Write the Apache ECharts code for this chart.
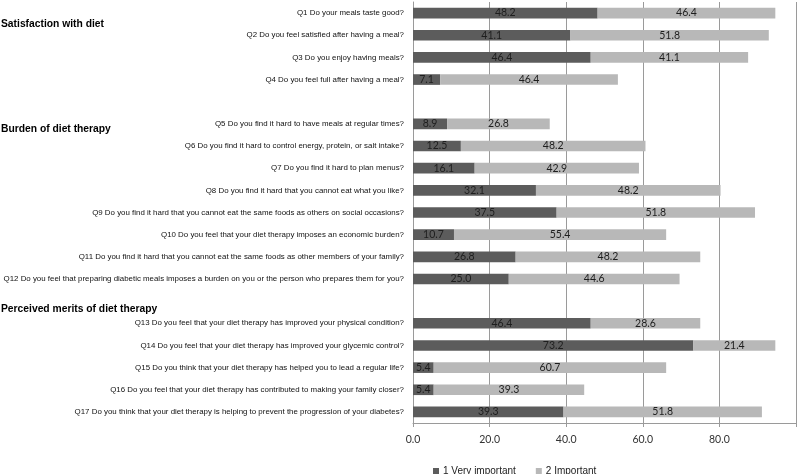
<!DOCTYPE html>
<html><head><meta charset="utf-8">
<script src="https://cdn.jsdelivr.net/npm/echarts@6/dist/echarts.min.js"></script>
<style>html,body{margin:0;padding:0;background:#fff}#c{width:798px;height:474px}</style>
</head><body><div id="c"></div>
<script>
var categories = [
 "Q1 Do your meals taste good?",
 "Q2 Do you feel satisfied after having a meal?",
 "Q3 Do you enjoy having meals?",
 "Q4 Do you feel full after having a meal?",
 " ",
 "Q5 Do you find it hard to have meals at regular times?",
 "Q6 Do you find it hard to control energy, protein, or salt intake?",
 "Q7 Do you find it hard to plan menus?",
 "Q8 Do you find it hard that you cannot eat what you like?",
 "Q9 Do you find it hard that you cannot eat the same foods as others on social occasions?",
 "Q10 Do you feel that your diet therapy imposes an economic burden?",
 "Q11 Do you find it hard that you cannot eat the same foods as other members of your family?",
 "Q12 Do you feel that preparing diabetic meals imposes a burden on you or the person who prepares them for you?",
 "  ",
 "Q13 Do you feel that your diet therapy has improved your physical condition?",
 "Q14 Do you feel that your diet therapy has improved your glycemic control?",
 "Q15 Do you think that your diet therapy has helped you to lead a regular life?",
 "Q16 Do you feel that your diet therapy has contributed to making your family closer?",
 "Q17 Do you think that your diet therapy is helping to prevent the progression of your diabetes?"
];
var veryImportant = [48.2, 41.1, 46.4, 7.1, '-', 8.9, 12.5, 16.1, 32.1, 37.5, 10.7, 26.8, 25.0, '-', 46.4, 73.2, 5.4, 5.4, 39.3];
var important =     [46.4, 51.8, 41.1, 46.4, '-', 26.8, 48.2, 42.9, 48.2, 51.8, 55.4, 48.2, 44.6, '-', 28.6, 21.4, 60.7, 39.3, 51.8];
var seriesNames = ["1 Very important", "2 Important"];
var sectionTitles = ["Satisfaction with diet", "Burden of diet therapy", "Perceived merits of diet therapy"];
var sectionRows = [0.45, 5.2, 13.3];

var chart = echarts.init(document.getElementById('c'), null, {renderer: 'canvas'});
var gridTop = 2, gridBottom = 51, gridH = 474 - gridTop - gridBottom;
var rowH = gridH / categories.length;
var lbl = {show: true, position: 'inside', color: '#1e1e1e', fontFamily: 'Lato', fontSize: 10.5,
  formatter: function(p){ return (+p.value).toFixed(1); }};
chart.setOption({
  animation: false,
  grid: {left: 413, right: 2, top: gridTop, bottom: gridBottom, containLabel: false, outerBoundsMode: 'none'},
  legend: {
    data: seriesNames, left: 428, top: 461, itemWidth: 6, itemHeight: 6, itemGap: 20,
    icon: 'rect', textStyle: {fontFamily: 'Liberation Sans', fontSize: 10, color: '#222', padding: [0,0,0,-1]}
  },
  xAxis: {
    type: 'value', min: 0, max: 100, interval: 20,
    axisLine: {show: true, lineStyle: {color: '#9a9a9a'}},
    axisTick: {show: true, length: 4, lineStyle: {color: '#9a9a9a'}},
    splitLine: {show: true, lineStyle: {color: '#9a9a9a'}},
    axisLabel: {fontFamily: 'Lato', fontSize: 10.5, color: '#333', margin: 11,
      formatter: function(v){ return v >= 100 ? '' : v.toFixed(1); }}
  },
  yAxis: {
    type: 'category', inverse: true, data: categories,
    axisLine: {show: true, lineStyle: {color: '#9a9a9a'}},
    axisTick: {show: false},
    axisLabel: {fontFamily: 'Liberation Sans', fontSize: 7.9, color: '#111', margin: 9, interval: 0}
  },
  series: [
    {name: seriesNames[0], type: 'bar', stack: 'a', data: veryImportant, barWidth: '48%',
     itemStyle: {color: '#5c5c5c'}, label: lbl},
    {name: seriesNames[1], type: 'bar', stack: 'a', data: important, barWidth: '48%',
     itemStyle: {color: '#b8b8b8'}, label: lbl}
  ],
  graphic: sectionTitles.map(function(t, i){
    return {type: 'text', left: 1, top: gridTop + sectionRows[i] * rowH + rowH/2 - 4,
      style: {text: t, font: 'bold 10.3px "Liberation Sans"', fill: '#000'}};
  })
});
</script></body></html>
